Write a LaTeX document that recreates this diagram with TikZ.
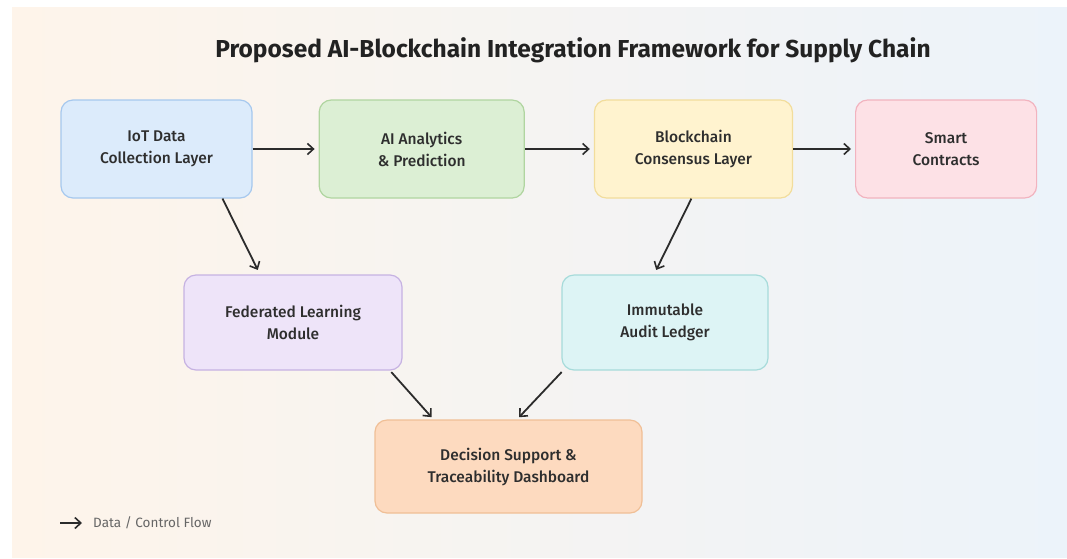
\documentclass[tikz,border=0pt]{standalone}
\usepackage{fontspec}
\setmainfont{Fira Sans}
\newfontfamily\medfont{Fira Sans}[UprightFont=* Medium, BoldFont=* Bold]
\usepackage{xcolor}
\usetikzlibrary{arrows.meta, positioning}

\definecolor{bgleft}{HTML}{FEF4EA}
\definecolor{bgmid}{HTML}{FDFAF4}
\definecolor{bgright}{HTML}{ECF3FA}
\definecolor{titletext}{HTML}{222222}
\definecolor{boxtext}{HTML}{2E2E2E}
\definecolor{arrowgray}{HTML}{2B2B2B}
\definecolor{iotfill}{HTML}{DCEBFB}
\definecolor{iotdraw}{HTML}{A6C8EE}
\definecolor{aifill}{HTML}{DCEFD4}
\definecolor{aidraw}{HTML}{B0D5A0}
\definecolor{chainfill}{HTML}{FFF3CF}
\definecolor{chaindraw}{HTML}{F2DD9C}
\definecolor{smartfill}{HTML}{FDE1E6}
\definecolor{smartdraw}{HTML}{F2B3BF}
\definecolor{fedfill}{HTML}{EEE4F9}
\definecolor{feddraw}{HTML}{C6B2E2}
\definecolor{ledgerfill}{HTML}{DDF4F5}
\definecolor{ledgerdraw}{HTML}{A6DBDA}
\definecolor{dashfill}{HTML}{FDDABF}
\definecolor{dashdraw}{HTML}{F0BF96}

\begin{document}
\begin{tikzpicture}[
    x=1pt, y=-1pt,
    block/.style={rectangle, draw, line width=1.2pt, rounded corners=12pt, align=center, inner sep=0pt, minimum height=98pt, text=boxtext, font=\medfont\fontsize{15.5}{22}\selectfont},
    arrow/.style={-{Straight Barb[length=6pt, width=11pt, line width=1.6pt]}, line width=1.8pt, draw=arrowgray}
]
    \useasboundingbox (0,0) rectangle (1067,558);
    \fill [left color=bgleft, middle color=bgmid, right color=bgright] (12,7) rectangle (1067,557);
    \node [font=\bfseries\fontsize{24.5}{28}\selectfont, text=titletext] (title) at (573,50) {Proposed AI-Blockchain Integration Framework for Supply Chain};
    \node [block, fill=iotfill, draw=iotdraw, minimum width=191pt] (iot) at (156.5,149) {IoT Data\\Collection Layer};
    \node [block, fill=aifill, draw=aidraw, minimum width=205pt, right=66pt of iot] (ai) {AI Analytics\\\& Prediction};
    \node [block, fill=chainfill, draw=chaindraw, minimum width=198pt, right=69pt of ai] (chain) {Blockchain\\Consensus Layer};
    \node [block, fill=smartfill, draw=smartdraw, minimum width=181pt, right=62pt of chain] (smart) {Smart\\Contracts};
    \node [block, fill=fedfill, draw=feddraw, minimum width=218pt, minimum height=95pt] (fed) at (293,322.5) {Federated Learning\\Module};
    \node [block, fill=ledgerfill, draw=ledgerdraw, minimum width=206pt, minimum height=95pt] (ledger) at (665,322.5) {Immutable\\Audit Ledger};
    \node [block, fill=dashfill, draw=dashdraw, minimum width=267pt, minimum height=93pt] (dash) at (508.5,466.5) {Decision Support \&\\Traceability Dashboard};
    \draw [arrow, shorten >=4pt] (iot) -- (ai);
    \draw [arrow, shorten >=4pt] (ai) -- (chain);
    \draw [arrow, shorten >=4pt] (chain) -- (smart);
    \draw [arrow, shorten >=5pt] ([xshift=66pt]iot.south) -- ([xshift=-33pt]fed.north);
    \draw [arrow, shorten >=5pt] ([xshift=-2pt]chain.south) -- ([xshift=-11pt]ledger.north);
    \draw [arrow, shorten <=2pt, shorten >=3pt] ([xshift=97pt]fed.south) -- ([xshift=-75pt]dash.north);
    \draw [arrow, shorten <=2pt, shorten >=3pt] ([xshift=-102pt]ledger.south) -- ([xshift=8.5pt]dash.north);
    % legend
    \coordinate (legstart) at (60,523);
    \node [anchor=west, inner sep=5pt, text=black!60, font=\fontsize{13.5}{16}\selectfont] (legtext) at (88,523) {Data / Control Flow};
    \draw [arrow, line width=1.4pt, shorten >=6pt] (legstart) -- (legtext.west);
\end{tikzpicture}
\end{document}
